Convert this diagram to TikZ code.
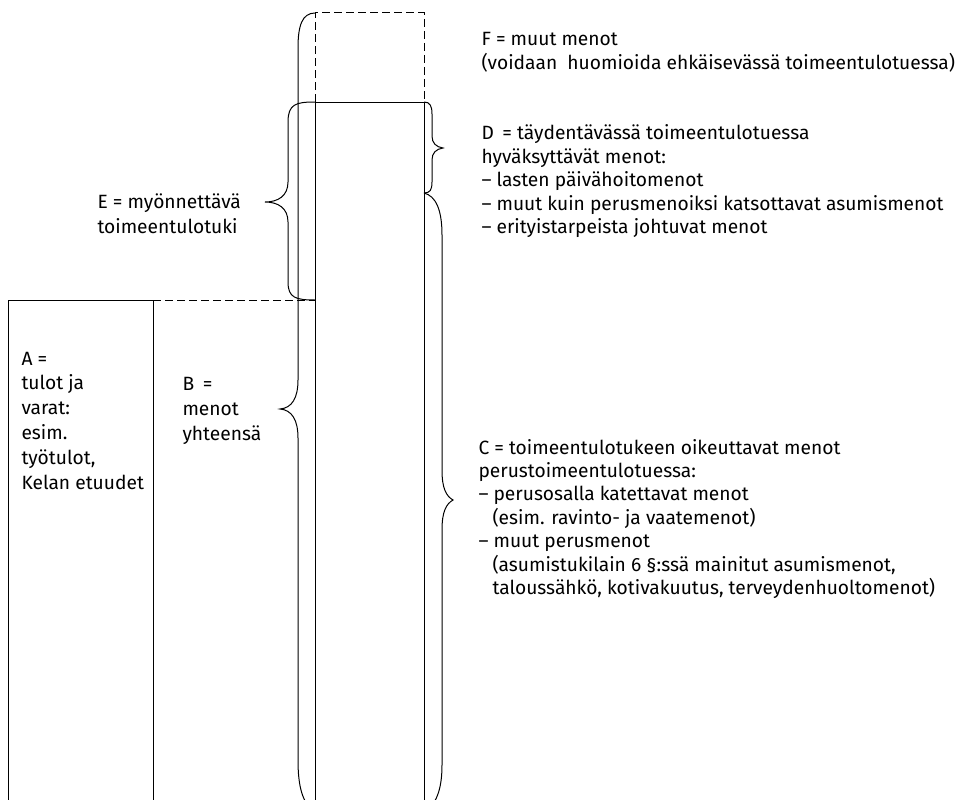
\documentclass[tikz,border=0pt]{standalone}
\usepackage{fontspec}
\setmainfont{Fira Sans}
\begin{document}
\begin{tikzpicture}[x=1pt,y=-1pt,line width=1pt,
  lbl/.style={anchor=base west,align=left,inner sep=0pt,font=\fontsize{19.2}{24}\selectfont},
  lblc/.style={lbl,font=\fontsize{19.2}{23.4}\selectfont},
  lbla/.style={lbl,font=\fontsize{19.2}{24.8}\selectfont},
  dsh/.style={dash pattern=on 8pt off 4pt},
  brc/.style={line width=1pt}]
\clip (0,0) rectangle (961,800);
% income column A
\coordinate (aTL) at (8,300);
\coordinate (aBL) at (8,820);
\coordinate (aTR) at (153,300);
\coordinate (aBR) at (153,820);
\coordinate (bTR) at (315,300);
\draw (aBL) -- (aTL) -- (aTR) -- (aBR);
\draw[dsh] (aTR) -- (bTR);
% expenses column
\coordinate (cTL) at (315,102);
\coordinate (cTR) at (424,102);
\coordinate (cBL) at (315,820);
\coordinate (cBR) at (424,820);
\coordinate (fTL) at (315,13);
\coordinate (fTR) at (424,13);
\draw (cBL) -- (cTL) -- (cTR) -- (cBR);
\draw[dsh] (cTL) -- (fTL) -- (fTR) -- (cTR);
% brace B (left, total expenses)
\draw[brc] (fTL) .. controls (302,13) and (298,26) .. (298,48) -- (298,380)
  .. controls (298,398) and (292,408) .. (280,409)
  .. controls (292,410) and (298,420) .. (298,438) -- (298,760)
  .. controls (298,785) and (302,805) .. (316,812);
% brace E (left, granted support)
\draw[brc] (cTL) .. controls (296,102) and (288,104) .. (288,122) -- (288,182)
  .. controls (288,196) and (278,202) .. (265,202)
  .. controls (278,202) and (288,208) .. (288,222) -- (288,282)
  .. controls (288,298) and (296,300) .. (bTR);
% brace D (right)
\coordinate (dB) at (424,193);
\draw[brc] (cTR) .. controls (430,102) and (432,106) .. (432,114) -- (432,136)
  .. controls (432,143) and (436,147) .. (443,148)
  .. controls (436,149) and (432,153) .. (432,160) -- (432,182)
  .. controls (432,190) and (430,193) .. (dB);
% brace C (right)
\draw[brc] (dB) .. controls (436,196) and (442,210) .. (442,235) -- (442,470)
  .. controls (442,488) and (446,496) .. (453,500)
  .. controls (446,504) and (442,512) .. (442,530) -- (442,765)
  .. controls (442,790) and (436,805) .. (424,812);
% labels (anchored at the baseline of the last line)
\node[lbl] (F) at (481,70) {F = muut menot\\(voidaan~ huomioida ehkäisevässä toimeentulotuessa)};
\node[lbl,font=\fontsize{19.2}{23.5}\selectfont] (D) at (481,233.5) {D\hspace{0.45em}= täydentävässä toimeentulotuessa\\hyväksyttävät menot:\\– lasten päivähoitomenot\\– muut kuin perusmenoiksi katsottavat asumismenot\\– erityistarpeista johtuvat menot};
\node[lblc] (C) at (478,594.5) {C = toimeentulotukeen oikeuttavat menot\\perustoimeentulotuessa:\\– perusosalla katettavat menot\\\hspace*{14pt}(esim. ravinto- ja vaatemenot)\\– muut perusmenot\\\hspace*{14pt}(asumistukilain 6 §:ssä mainitut asumismenot,\\\hspace*{14pt}taloussähkö, kotivakuutus, terveydenhuoltomenot)};
\node[lbl,font=\fontsize{19.2}{25}\selectfont] (E) at (97,233) {E = myönnettävä\\toimeentulotuki};
\node[lbla] (A) at (21,489) {A =\\tulot ja\\varat:\\esim.\\työtulot,\\Kelan etuudet};
\node[lbl,font=\fontsize{19.2}{25}\selectfont] (B) at (182,440) {B\hspace{0.45em}=\\menot\\yhteensä};
\end{tikzpicture}
\end{document}
